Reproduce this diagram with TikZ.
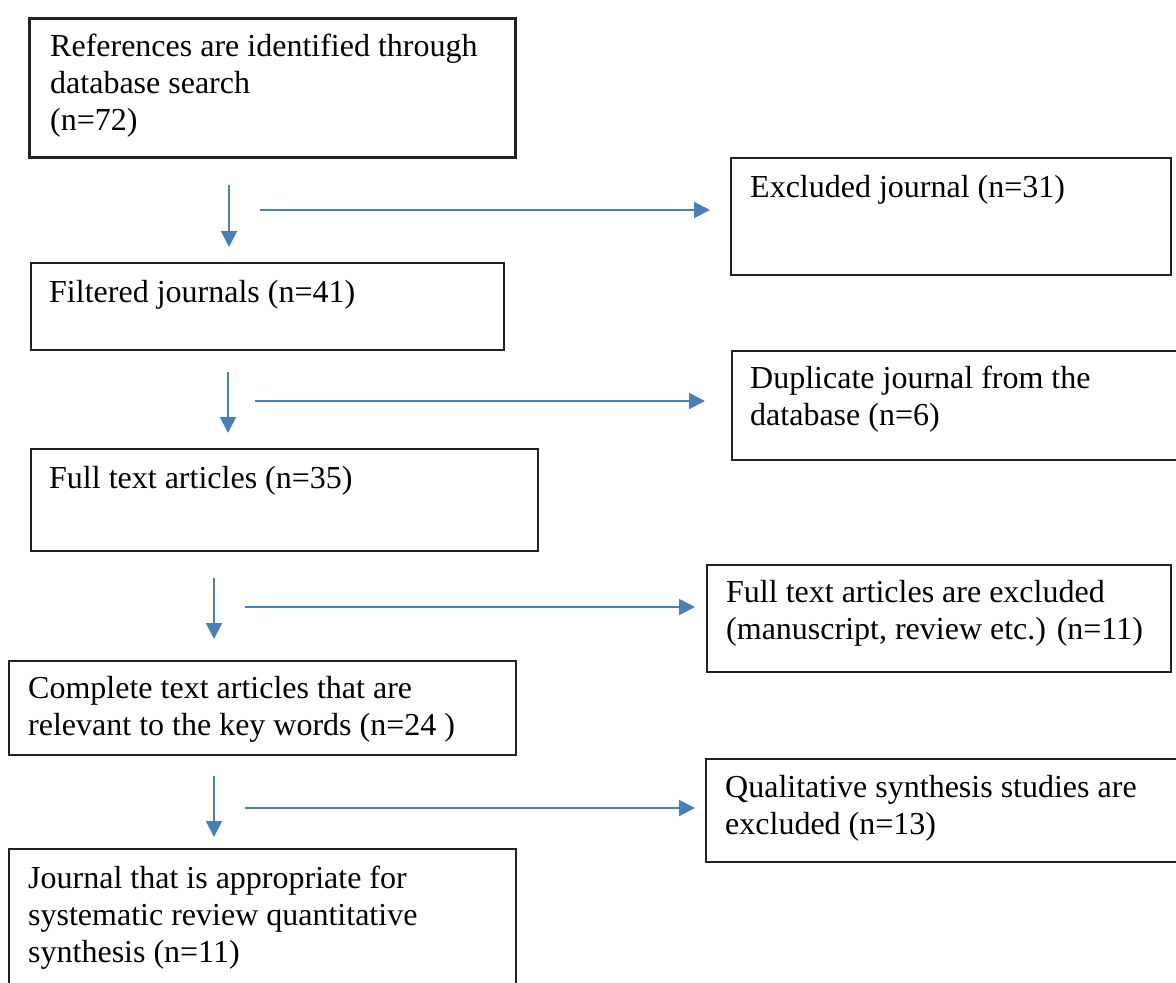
\documentclass[tikz,border=0pt]{standalone}
\usepackage{fontspec}
\setmainfont{Liberation Serif}
\usetikzlibrary{arrows.meta}
\definecolor{arrowblue}{HTML}{4A7EBB}
\definecolor{boxline}{HTML}{222222}
\begin{document}
\begin{tikzpicture}[x=1pt,y=-1pt,
  box/.style={draw=boxline, line width=1.5pt, anchor=north west, inner sep=0pt},
  thickbox/.style={box, line width=3pt},
  txt/.style={anchor=north west, inner sep=0pt, align=left, font=\fontsize{32}{37}\selectfont},
  arr/.style={draw=arrowblue, line width=2pt, -{Triangle[length=16pt,width=16pt]}}]
\useasboundingbox (0,0) rectangle (1176,983);
\clip (0,0) rectangle (1176,983);
\fill[white] (0,0) rectangle (1176,983);

% boxes
\node[thickbox, minimum width=486pt, minimum height=139pt] (b1) at (28,17) {};
\node[box, minimum width=440pt, minimum height=117pt] (b2) at (730,157) {};
\node[box, minimum width=473pt, minimum height=87pt] (b3) at (30,262) {};
\node[box, minimum width=480pt, minimum height=109pt] (b4) at (731,350) {};
\node[box, minimum width=507pt, minimum height=102pt] (b5) at (30,448) {};
\node[box, minimum width=464pt, minimum height=107pt] (b6) at (706,564) {};
\node[box, minimum width=507pt, minimum height=94pt] (b7) at (8,660) {};
\node[box, minimum width=490pt, minimum height=103pt] (b8) at (705,758) {};
\node[box, minimum width=507pt, minimum height=200pt] (b9) at (8,848) {};

% texts
\node[txt] (t1) at (50,30.1) {\strut References are identified through\\database search\\(n=72)};
\node[txt] (t2) at (750,171.1) {\strut Excluded journal (n=31)};
\node[txt] (t3) at (49,276.1) {\strut Filtered journals (n=41)};
\node[txt] (t4) at (750,362.1) {\strut Duplicate journal from the\\database (n=6)};
\node[txt] (t5) at (49,462.1) {\strut Full text articles (n=35)};
\node[txt] (t6) at (726,576.1) {\strut Full text articles are excluded\\(manuscript, review etc.) (n=11)};
\node[txt] (t7) at (28,672.1) {\strut Complete text articles that are\\relevant to the key words (n=24 )};
\node[txt] (t8) at (725,771.1) {\strut Qualitative synthesis studies are\\excluded (n=13)};
\node[txt] (t9) at (28,862.1) {\strut Journal that is appropriate for\\systematic review quantitative\\synthesis (n=11)};

% arrow end points
\coordinate (v1s) at (229,185); \coordinate (v1e) at (229,247);
\coordinate (h1s) at (260,210); \coordinate (h1e) at (710,210);
\coordinate (v2s) at (228,372); \coordinate (v2e) at (228,433);
\coordinate (h2s) at (255,401); \coordinate (h2e) at (705,401);
\coordinate (v3s) at (214,578); \coordinate (v3e) at (214,639);
\coordinate (h3s) at (245,607); \coordinate (h3e) at (695,607);
\coordinate (v4s) at (214,776); \coordinate (v4e) at (214,837);
\coordinate (h4s) at (245,808); \coordinate (h4e) at (695,808);

\draw[arr] (v1s) -- (v1e);
\draw[arr] (h1s) -- (h1e);
\draw[arr] (v2s) -- (v2e);
\draw[arr] (h2s) -- (h2e);
\draw[arr] (v3s) -- (v3e);
\draw[arr] (h3s) -- (h3e);
\draw[arr] (v4s) -- (v4e);
\draw[arr] (h4s) -- (h4e);
\end{tikzpicture}
\end{document}
